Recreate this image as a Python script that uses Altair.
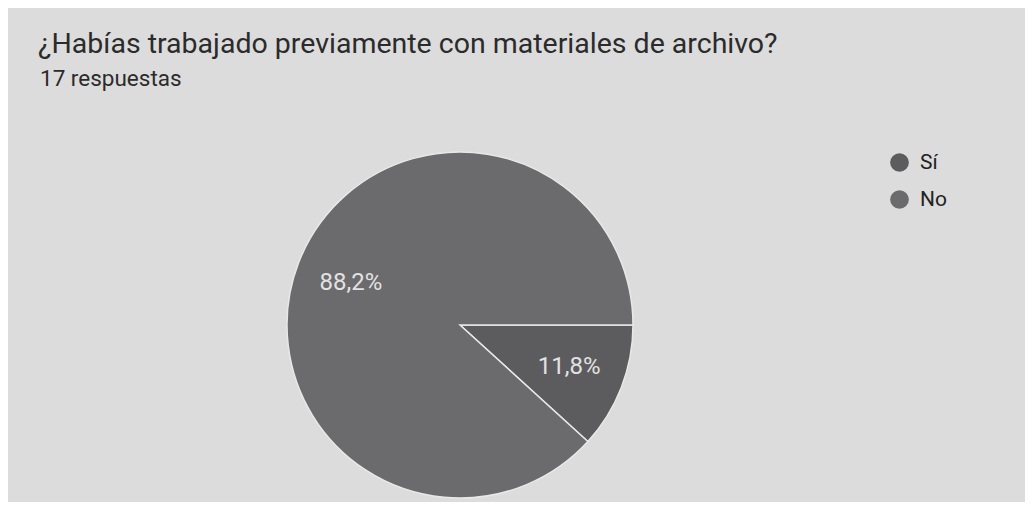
import altair as alt
import pandas as pd

categories = ["Sí", "No"]
values = [2, 15]
labels = ["11,8%", "88,2%"]
colors = ["#5c5c5e", "#6b6b6e"]

title_text = "¿Habías trabajado previamente con materiales de archivo?"
subtitle_text = "17 respuestas"

df = pd.DataFrame({"cat": categories, "val": values, "lab": labels, "ord": [0, 1]})

W, H = 1017, 494
CX, CY, R = 452, 317, 173
PI = 3.141592653589793

theta = alt.Theta("val:Q", stack=True, scale=alt.Scale(range=[PI / 2, PI / 2 + 2 * PI]))
color = alt.Color(
    "cat:N",
    scale=alt.Scale(domain=categories, range=colors),
    legend=alt.Legend(
        title=None,
        orient="none",
        legendX=881,
        legendY=144,
        padding=0,
        symbolType="circle",
        symbolSize=350,
        symbolStrokeWidth=0,
        labelFontSize=21,
        labelFont="Roboto",
        labelColor="#222222",
        rowPadding=15,
        labelOffset=10,
    ),
)

base = alt.Chart(df).encode(
    theta=theta,
    order=alt.Order("ord:Q"),
)

pie = base.mark_arc(radius=R, stroke="#e8e8e8", strokeWidth=1.5).encode(
    color=color,
    x=alt.value(CX),
    y=alt.value(CY),
)

txt = base.mark_text(radius=117, fontSize=24, font="Roboto", color="#e2e2e2").encode(
    text="lab:N",
    x=alt.value(CX),
    y=alt.value(CY),
)

title = alt.Chart(pd.DataFrame({"t": [title_text]})).mark_text(
    align="left", baseline="alphabetic", fontSize=28.5, font="Roboto", color="#2b2b2b"
).encode(text="t:N", x=alt.value(30), y=alt.value(45))

sub = alt.Chart(pd.DataFrame({"t": [subtitle_text]})).mark_text(
    align="left", baseline="alphabetic", fontSize=22.5, font="Roboto", color="#2b2b2b"
).encode(text="t:N", x=alt.value(32), y=alt.value(78))

chart = alt.layer(pie, txt, title, sub).properties(
    width=W, height=H, background="#dcdcdc", padding=0,
    autosize=alt.AutoSizeParams(type="none"),
).configure_view(stroke=None)

chart.save("out.html", embed_options={"renderer": "svg", "actions": False})
